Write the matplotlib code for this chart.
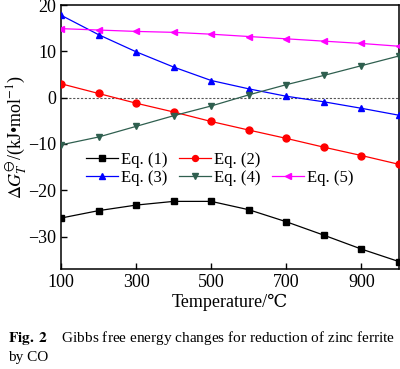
import numpy as np
import matplotlib.pyplot as plt
from matplotlib.lines import Line2D

plt.rcParams['font.family'] = ['Liberation Serif', 'DejaVu Serif']
plt.rcParams['mathtext.fontset'] = 'stix'

# Data
temperature = [100, 200, 300, 400, 500, 600, 700, 800, 900, 1000]
eq1 = [-26.0, -24.4, -23.2, -22.4, -22.4, -24.2, -26.8, -29.7, -32.7, -35.4]
eq2 = [3.0, 0.9, -1.2, -3.1, -5.15, -7.0, -8.8, -10.7, -12.5, -14.4]
eq3 = [17.8, 13.6, 9.9, 6.6, 3.7, 1.9, 0.3, -0.9, -2.3, -3.8]
eq4 = [-10.2, -8.5, -6.2, -3.9, -1.8, 0.6, 2.8, 4.8, 6.9, 9.0]
eq5 = [14.9, 14.6, 14.3, 14.1, 13.7, 13.2, 12.7, 12.2, 11.7, 11.1]

series = [
    ("Eq. (1)", eq1, "black", "s"),
    ("Eq. (2)", eq2, "red", "o"),
    ("Eq. (3)", eq3, "blue", "^"),
    ("Eq. (4)", eq4, "#2f5f4f", "v"),
    ("Eq. (5)", eq5, "magenta", "<"),
]

fig = plt.figure(figsize=(4.0, 3.69), dpi=100)
ax = fig.add_axes([0.1525, 0.271, 0.845, 0.7154])

ax.axhline(0, color="#555555", linestyle=(0, (2, 1.5)), linewidth=0.8, zorder=1)
handles = {}
for label, vals, color, marker in series:
    h, = ax.plot(temperature, vals, color=color, marker=marker, markersize=5,
                 linewidth=0.9, label=label, zorder=3)
    handles[label] = h

ax.set_xlim(100, 1000)
ax.set_ylim(-37, 20)
ax.set_xticks([100, 300, 500, 700, 900])
ax.set_yticks([-30, -20, -10, 0, 10, 20])
ax.tick_params(direction="in", length=4, width=1, labelsize=13, top=False, right=False)
for s in ax.spines.values():
    s.set_linewidth(1.1)

ax.set_xlabel("Temperature/\u2103", fontsize=13, labelpad=2)
ax.set_ylabel(r"$\Delta G_T^{\ominus}$/(kJ" + "\u2022" + r"mol$^{-1}$)", fontsize=13, labelpad=0)

# legend: row 1 -> Eq.(1), Eq.(2); row 2 -> Eq.(3), Eq.(4), Eq.(5)
blank = Line2D([], [], linestyle="none")
order = [handles["Eq. (1)"], handles["Eq. (3)"], handles["Eq. (2)"],
         handles["Eq. (4)"], blank, handles["Eq. (5)"]]
labels = ["Eq. (1)", "Eq. (3)", "Eq. (2)", "Eq. (4)", "", "Eq. (5)"]
ax.legend(order, labels, loc="upper left", bbox_to_anchor=(0.075, 0.444), ncol=3,
          frameon=False, fontsize=12, handlelength=1.9, handletextpad=0.18,
          columnspacing=0.7, labelspacing=0.15, borderaxespad=0, borderpad=0,
          markerscale=0.85)

fig.text(0.02, 0.084, r"$\bf{Fig.\ 2}$    Gibbs free energy changes for reduction of zinc ferrite",
         fontsize=11, va="center")
fig.text(0.02, 0.03, "by CO", fontsize=11, va="center")

fig.savefig("out.png", dpi=100)
